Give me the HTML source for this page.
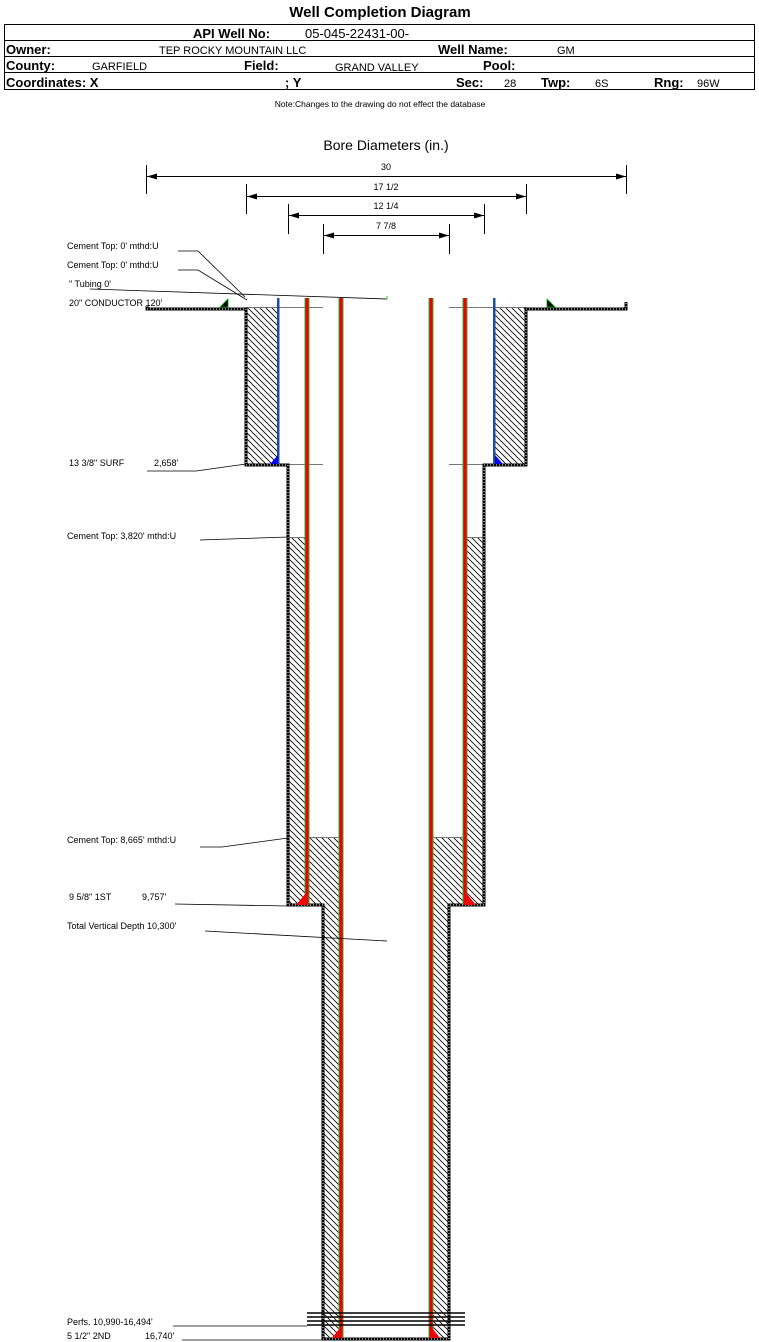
<!DOCTYPE html>
<html><head><meta charset="utf-8"><style>
html,body{margin:0;padding:0;background:#fff;}
body{width:759px;height:1342px;position:relative;overflow:hidden;font-family:"Liberation Sans",sans-serif;}
svg{position:absolute;left:0;top:0;}
text{font-family:"Liberation Sans",sans-serif;}
</style></head><body>
<svg width="759" height="1342" viewBox="0 0 759 1342" xmlns="http://www.w3.org/2000/svg">
<defs>
<pattern id="h" patternUnits="userSpaceOnUse" width="6" height="6">
<path d="M-1,-1 L7,7 M-1,5 L1,7 M5,-1 L7,1" stroke="#000" stroke-width="0.8"/>
</pattern>
<marker id="al" markerWidth="10" markerHeight="6" refX="0" refY="3" orient="auto"><path d="M0,3 L10,0 L10,6 z" fill="#000"/></marker>
<marker id="ar" markerWidth="10" markerHeight="6" refX="10" refY="3" orient="auto"><path d="M10,3 L0,0 L0,6 z" fill="#000"/></marker>
</defs>
<!-- header -->
<text x="380" y="17" font-size="15" font-weight="bold" text-anchor="middle">Well Completion Diagram</text>
<rect x="4.5" y="24.5" width="750" height="65" fill="none" stroke="#000" stroke-width="1"/>
<line x1="4" y1="40.5" x2="755" y2="40.5" stroke="#000"/>
<line x1="4" y1="56.5" x2="755" y2="56.5" stroke="#000"/>
<line x1="4" y1="72.5" x2="755" y2="72.5" stroke="#000"/>
<g font-size="13" font-weight="bold">
<text x="193" y="38">API Well No:</text>
<text x="6" y="54">Owner:</text>
<text x="438" y="54">Well Name:</text>
<text x="6" y="70">County:</text>
<text x="244" y="70">Field:</text>
<text x="483" y="70">Pool:</text>
<text x="6" y="87">Coordinates: X</text>
<text x="285" y="87">; Y</text>
<text x="456" y="87">Sec:</text>
<text x="541" y="87">Twp:</text>
<text x="654" y="87">Rng:</text>
</g>
<g font-size="11">
<text x="305" y="38" font-size="13">05-045-22431-00-</text>
<text x="159" y="54">TEP ROCKY MOUNTAIN LLC</text>
<text x="557" y="54">GM</text>
<text x="92" y="70">GARFIELD</text>
<text x="335" y="71">GRAND VALLEY</text>
<text x="504" y="87">28</text>
<text x="595" y="87">6S</text>
<text x="697" y="87">96W</text>
</g>
<text x="380" y="107" font-size="8.5" text-anchor="middle">Note:Changes to the drawing do not effect the database</text>
<text x="386" y="150" font-size="14" text-anchor="middle">Bore Diameters (in.)</text>
<!-- dims -->
<g stroke="#000" stroke-width="1" font-size="9">
<line x1="146.5" y1="165" x2="146.5" y2="194"/><line x1="626.5" y1="165" x2="626.5" y2="194"/>
<line x1="147" y1="176.5" x2="626" y2="176.5" marker-start="url(#al)" marker-end="url(#ar)"/>
<line x1="246.5" y1="184" x2="246.5" y2="214"/><line x1="526.5" y1="184" x2="526.5" y2="214"/>
<line x1="247" y1="196.5" x2="526" y2="196.5" marker-start="url(#al)" marker-end="url(#ar)"/>
<line x1="288.5" y1="204" x2="288.5" y2="234"/><line x1="484.5" y1="204" x2="484.5" y2="234"/>
<line x1="289" y1="215.5" x2="484" y2="215.5" marker-start="url(#al)" marker-end="url(#ar)"/>
<line x1="323.5" y1="224" x2="323.5" y2="254"/><line x1="449.5" y1="224" x2="449.5" y2="254"/>
<line x1="324" y1="235.5" x2="449" y2="235.5" marker-start="url(#al)" marker-end="url(#ar)"/>
</g>
<g font-size="9" text-anchor="middle">
<text x="386" y="170">30</text><text x="386" y="190">17 1/2</text><text x="386" y="209">12 1/4</text><text x="386" y="229">7 7/8</text>
</g>
<!-- cement fills -->
<g fill="url(#h)">
<rect x="247" y="308" width="31" height="156"/>
<rect x="495" y="308" width="31" height="156"/>
<rect x="289" y="537" width="18" height="368"/>
<rect x="466" y="537" width="18" height="368"/>
<rect x="307" y="837" width="34" height="68"/>
<rect x="431" y="837" width="34" height="68"/>
<rect x="323" y="905" width="18" height="433"/>
<rect x="431" y="905" width="18" height="433"/>
</g>
<g stroke="#777" stroke-width="1">
<line x1="289" y1="537.5" x2="307" y2="537.5"/><line x1="466" y1="537.5" x2="484" y2="537.5"/>
<line x1="307" y1="837.5" x2="341" y2="837.5"/><line x1="431" y1="837.5" x2="465" y2="837.5"/>
<line x1="246" y1="307.5" x2="323" y2="307.5"/><line x1="449" y1="307.5" x2="527" y2="307.5"/>
<line x1="246" y1="464.5" x2="323" y2="464.5"/><line x1="449" y1="464.5" x2="527" y2="464.5"/>
</g>
<!-- hole walls -->
<path id="w" d="M147,306 L147,309 L246,309 L246,465 L288,465 L288,905 L323,905 L323,1339 L449,1339 L449,905 L484,905 L484,465 L526,465 L526,309 L626,309 L626,302" fill="none" stroke="#000" stroke-width="3"/>
<path d="M147,306 L147,309 L246,309 L246,465 L288,465 L288,905 L323,905 L323,1339 L449,1339 L449,905 L484,905 L484,465 L526,465 L526,309 L626,309 L626,302" fill="none" stroke="#fff" stroke-width="1" stroke-dasharray="1,2"/>
<!-- conductor shoe triangles -->
<path d="M220,307 L228,299 L228,307 z" fill="#000" stroke="#0a0" stroke-width="0.8"/>
<path d="M547,307 L547,299 L555,307 z" fill="#000" stroke="#0a0" stroke-width="0.8"/>
<!-- surface casing blue -->
<rect x="277" y="298" width="2.5" height="166" fill="#1a4fa0"/>
<rect x="493" y="298" width="2.5" height="166" fill="#1a4fa0"/>
<path d="M270,464 L278,455 L278,464 z" fill="#00f"/>
<path d="M495,464 L495,455 L503,464 z" fill="#00f"/>
<!-- intermediate casing red -->
<rect x="304.5" y="298" width="5" height="607" fill="#3a3"/><rect x="305.5" y="298" width="3" height="607" fill="#e00"/>
<rect x="462.5" y="298" width="5" height="607" fill="#3a3"/><rect x="463.5" y="298" width="3" height="607" fill="#e00"/>
<path d="M296,905 L306,893 L306,905 z" fill="#e00"/>
<path d="M466,905 L466,893 L476,905 z" fill="#e00"/>
<!-- production casing -->
<rect x="338.5" y="298" width="5" height="1040" fill="#3a3"/><rect x="339.5" y="298" width="3" height="1040" fill="#e00"/>
<rect x="428.5" y="298" width="5" height="1040" fill="#3a3"/><rect x="429.5" y="298" width="3" height="1040" fill="#e00"/>
<path d="M332,1338 L340,1328 L340,1338 z" fill="#e00"/>
<path d="M432,1338 L432,1328 L440,1338 z" fill="#e00"/>
<!-- perfs -->
<g stroke="#000" stroke-width="1.5">
<line x1="307" y1="1313" x2="465" y2="1313"/><line x1="307" y1="1317" x2="465" y2="1317"/>
<line x1="307" y1="1321" x2="465" y2="1321"/><line x1="307" y1="1325" x2="465" y2="1325"/>
</g>
<!-- labels -->
<g font-size="9">
<text x="67" y="249">Cement Top: 0' mthd:U</text>
<text x="67" y="268">Cement Top: 0' mthd:U</text>
<text x="69" y="287">" Tubing 0'</text>
<text x="69" y="306">20" CONDUCTOR  120'</text>
<text x="69" y="466">13 3/8" SURF</text><text x="154" y="466">2,658'</text>
<text x="67" y="539">Cement Top: 3,820' mthd:U</text>
<text x="67" y="843">Cement Top: 8,665' mthd:U</text>
<text x="69" y="900">9 5/8" 1ST</text><text x="142" y="900">9,757'</text>
<text x="67" y="929">Total Vertical Depth 10,300'</text>
<text x="67" y="1325">Perfs. 10,990-16,494'</text>
<text x="67" y="1339">5 1/2" 2ND</text><text x="145" y="1339">16,740'</text>
</g>
<g stroke="#000" stroke-width="0.8" fill="none">
<polyline points="178,251 198,251 245,297"/>
<polyline points="178,270 198,270 247,300"/>
<polyline points="90,289 387,299"/>
<line x1="387" y1="296" x2="387" y2="299" stroke="#0a0"/>
<polyline points="147,471 196,471 246,464"/>
<polyline points="200,540 288,537"/>
<polyline points="200,847 222,847 288,838"/>
<polyline points="175,904 288,906"/>
<polyline points="205,931 387,941"/>
<polyline points="173,1326 307,1326"/>
<polyline points="182,1340 323,1340"/>
</g>
</svg>
</body></html>
